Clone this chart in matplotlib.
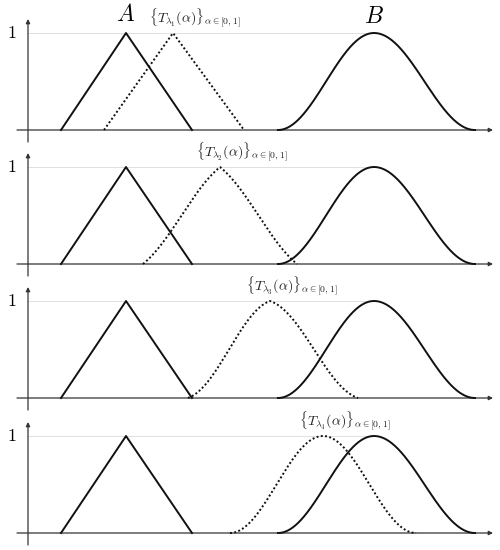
import numpy as np
from matplotlib import pyplot as plt

plt.rcParams['mathtext.fontset'] = 'cm'

# shape supports (left, peak, right), x measured from the vertical axis
a_left, a_peak, a_right = 33, 98, 164
b_left, b_peak, b_right = 250, 346, 447

# the dotted family, one per panel
t_left = [76, 115, 160, 202]
t_peak = [145, 192, 242, 295]
t_right = [216, 269, 330, 388]
t_round = [0.0, 0.35, 0.7, 1.0]   # 0 = triangle, 1 = cosine bump
t_index = ['1', '2', '3', '4']

baselines = [130, 264, 398, 533]  # pixel rows of the x axes


def bump(left, peak, right, w, n=400):
    x = np.linspace(left, right, n)
    u = np.where(x < peak, (x - left) / (peak - left), (right - x) / (right - peak))
    u = np.clip(u, 0, 1)
    smooth = 0.5 * (1 - np.cos(np.pi * u))
    return x, (1 - w) * u + w * smooth


fig = plt.figure(figsize=(5, 5.5), dpi=100)
H = 550.0
unit = 97.0

for i in range(4):
    bot = (H - (baselines[i] + 15)) / H
    ax = fig.add_axes([0, bot, 1, 150 / H])
    ax.set_xlim(-28, 472)
    ax.set_ylim(-15 / unit, 135 / unit)
    ax.axis('off')
    ax.patch.set_alpha(0)

    # guide at height 1
    ax.plot([0, b_peak], [1, 1], color='#e0e0e0', lw=0.7, zorder=1)

    # axes with arrows
    ax.annotate('', xy=(465, 0), xytext=(-11, 0),
                arrowprops=dict(arrowstyle='-|>', color='#333333', lw=0.9,
                                mutation_scale=6, shrinkA=0, shrinkB=0))
    ax.annotate('', xy=(0, 1 + 14 / unit), xytext=(0, -12 / unit),
                arrowprops=dict(arrowstyle='-|>', color='#333333', lw=0.9,
                                mutation_scale=6, shrinkA=0, shrinkB=0))
    ax.text(-16, 1, r'$1$', ha='center', va='center', fontsize=13)

    x, y = bump(a_left, a_peak, a_right, 0.0)
    ax.plot(x, y, color='#111111', lw=1.4, zorder=3)
    x, y = bump(b_left, b_peak, b_right, 1.0)
    ax.plot(x, y, color='#111111', lw=1.4, zorder=3)
    x, y = bump(t_left[i], t_peak[i], t_right[i], t_round[i])
    ax.plot(x, y, color='#111111', lw=1.4, ls=(0, (1, 1.2)), zorder=3)

    ax.text(t_peak[i] - 24, 1.1,
            r'$\{T_{\lambda_%s}(\alpha)\}_{\alpha\in[0,1]}$' % t_index[i],
            ha='left', va='baseline', fontsize=10, color='#222222')

    if i == 0:
        ax.text(a_peak, 1.12, r'$A$', ha='center', va='baseline', fontsize=17)
        ax.text(b_peak, 1.1, r'$B$', ha='center', va='baseline', fontsize=17)

fig.savefig('out.png', dpi=100)
